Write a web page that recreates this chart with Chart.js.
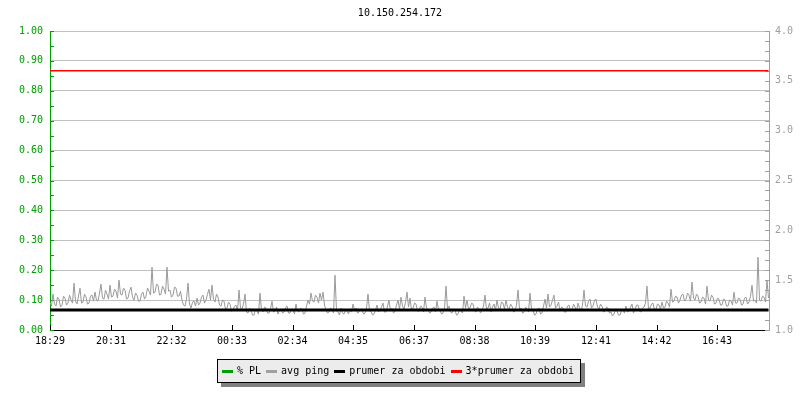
<!DOCTYPE html>
<html>
<head>
<meta charset="utf-8">
<title>10.150.254.172</title>
<script src="https://cdn.jsdelivr.net/npm/chart.js@4/dist/chart.umd.min.js"></script>
<style>
  body { margin: 0; background: #fff; }
  #wrap { position: relative; width: 800px; height: 400px; }
  #graf { display: block; }
  #legenda {
    position: absolute; left: 217px; top: 359px; height: 22px;
    padding: 0 6px 0 4px; background: #ececec; border: 1px solid #000;
    box-shadow: 4px 4px 0 #808080;
    font: 10px "DejaVu Sans Mono", monospace; line-height: 22px; color: #000;
    display: flex; align-items: center; white-space: pre;
  }
  #legenda .voce { display: flex; align-items: center; margin-right: 5px; }
  #legenda .voce:last-child { margin-right: 0; }
  #legenda .segno { width: 11px; height: 3px; margin-right: 4px; }
</style>
</head>
<body>
<div id="wrap">
  <canvas id="graf" width="800" height="400"></canvas>
  <div id="legenda"></div>
</div>
<script>
// ----- dati -----
var titolo = '10.150.254.172';
var passoMinuti = 3; // un campione ogni 3 minuti

// tacche asse x (minuti dall'inizio, 18:29)
var tickMinuti = [0, 122, 243, 364, 485, 606, 728, 849, 970, 1092, 1213, 1334];
var tickOrari = ['18:29', '20:31', '22:32', '00:33', '02:34', '04:35', '06:37', '08:38', '10:39', '12:41', '14:42', '16:43'];

// % PL (nessuna perdita nel periodo)
var perditaPL = [];

// avg ping (asse destro)
var avgPing = [
  // 18:29 - 22:32
  1.28, 1.24, 1.36, 1.26, 1.24, 1.33, 1.31, 1.23, 1.25, 1.34, 1.32, 1.25, 1.27, 1.35, 1.30, 1.27,
  1.47, 1.29, 1.26, 1.34, 1.42, 1.27, 1.28, 1.36, 1.33, 1.26, 1.27, 1.34, 1.35, 1.29, 1.38, 1.30,
  1.29, 1.37, 1.46, 1.32, 1.31, 1.40, 1.36, 1.31, 1.45, 1.33, 1.34, 1.41, 1.39, 1.32, 1.50, 1.36,
  1.35, 1.42, 1.40, 1.31, 1.32, 1.39, 1.43, 1.33, 1.30, 1.37, 1.35, 1.29, 1.29, 1.36, 1.38, 1.31,
  1.34, 1.42, 1.39, 1.35, 1.63, 1.37, 1.38, 1.46, 1.45, 1.35, 1.36, 1.44, 1.41, 1.36, 1.63, 1.39,
  1.40, 1.33, 1.35, 1.43, 1.42, 1.34, 1.34, 1.39, 1.30, 1.25, 1.24, 1.31, 1.47, 1.26, 1.22, 1.28,
  // 22:32 - 04:35
  1.29, 1.24, 1.32, 1.25, 1.27, 1.33, 1.35, 1.27, 1.30, 1.36, 1.41, 1.30, 1.45, 1.31, 1.28, 1.36,
  1.33, 1.25, 1.24, 1.30, 1.29, 1.21, 1.22, 1.28, 1.26, 1.19, 1.20, 1.24, 1.25, 1.19, 1.40, 1.22,
  1.21, 1.26, 1.36, 1.18, 1.17, 1.22, 1.20, 1.15, 1.15, 1.21, 1.19, 1.16, 1.37, 1.20, 1.18, 1.23,
  1.22, 1.17, 1.17, 1.21, 1.29, 1.18, 1.19, 1.23, 1.16, 1.20, 1.21, 1.17, 1.18, 1.22, 1.24, 1.17,
  1.17, 1.21, 1.20, 1.16, 1.26, 1.19, 1.18, 1.22, 1.21, 1.16, 1.17, 1.24, 1.30, 1.26, 1.37, 1.29,
  1.28, 1.35, 1.33, 1.27, 1.37, 1.30, 1.38, 1.25, 1.20, 1.17, 1.18, 1.22, 1.21, 1.17, 1.55, 1.19,
  // 04:35 - 10:39
  1.18, 1.15, 1.22, 1.17, 1.16, 1.20, 1.19, 1.16, 1.21, 1.18, 1.26, 1.20, 1.22, 1.17, 1.18, 1.21,
  1.20, 1.16, 1.17, 1.22, 1.36, 1.19, 1.19, 1.15, 1.16, 1.20, 1.25, 1.18, 1.20, 1.23, 1.27, 1.18,
  1.18, 1.24, 1.30, 1.19, 1.22, 1.17, 1.19, 1.25, 1.30, 1.21, 1.33, 1.24, 1.21, 1.28, 1.38, 1.23,
  1.32, 1.20, 1.22, 1.27, 1.26, 1.19, 1.19, 1.24, 1.23, 1.18, 1.33, 1.22, 1.21, 1.17, 1.18, 1.22,
  1.23, 1.18, 1.29, 1.20, 1.20, 1.16, 1.17, 1.22, 1.44, 1.21, 1.24, 1.18, 1.17, 1.21, 1.20, 1.15,
  1.16, 1.20, 1.19, 1.17, 1.34, 1.22, 1.30, 1.21, 1.22, 1.27, 1.26, 1.19, 1.18, 1.23, 1.21, 1.17,
  // 10:39 - 14:42
  1.20, 1.24, 1.35, 1.21, 1.22, 1.27, 1.18, 1.23, 1.26, 1.20, 1.30, 1.22, 1.21, 1.28, 1.27, 1.21,
  1.30, 1.23, 1.20, 1.26, 1.24, 1.18, 1.19, 1.25, 1.40, 1.21, 1.22, 1.17, 1.18, 1.23, 1.21, 1.18,
  1.37, 1.21, 1.20, 1.15, 1.16, 1.21, 1.22, 1.16, 1.17, 1.24, 1.31, 1.22, 1.36, 1.23, 1.25, 1.30,
  1.35, 1.22, 1.24, 1.28, 1.19, 1.23, 1.22, 1.18, 1.18, 1.24, 1.25, 1.19, 1.20, 1.26, 1.23, 1.19,
  1.27, 1.22, 1.19, 1.25, 1.40, 1.24, 1.23, 1.29, 1.31, 1.22, 1.24, 1.30, 1.31, 1.23, 1.21, 1.26,
  1.24, 1.18, 1.19, 1.23, 1.22, 1.17, 1.18, 1.14, 1.16, 1.21, 1.19, 1.15, 1.15, 1.19, 1.20, 1.17,
  // 14:42 - 18:29
  1.24, 1.18, 1.19, 1.23, 1.26, 1.17, 1.21, 1.25, 1.25, 1.19, 1.18, 1.22, 1.23, 1.27, 1.44, 1.21,
  1.22, 1.26, 1.27, 1.20, 1.21, 1.26, 1.25, 1.21, 1.28, 1.22, 1.23, 1.29, 1.27, 1.23, 1.41, 1.28,
  1.29, 1.34, 1.33, 1.27, 1.30, 1.35, 1.36, 1.29, 1.31, 1.37, 1.35, 1.29, 1.48, 1.32, 1.30, 1.36,
  1.34, 1.27, 1.28, 1.33, 1.32, 1.26, 1.44, 1.30, 1.29, 1.35, 1.33, 1.26, 1.27, 1.32, 1.31, 1.25,
  1.25, 1.31, 1.30, 1.24, 1.24, 1.30, 1.29, 1.25, 1.38, 1.27, 1.27, 1.32, 1.31, 1.25, 1.26, 1.32,
  1.33, 1.26, 1.28, 1.34, 1.45, 1.29, 1.30, 1.27, 1.73, 1.30, 1.29, 1.34, 1.33, 1.28, 1.50, 1.32
];

// prumer za obdobi e 3*prumer (inizio e fine periodo)
var prumer = [1.20, 1.20];
var prumer3 = [3.60, 3.60];

// ----- costruzione -----
var fineMinuti = (avgPing.length - 1) * passoMinuti;

function puntiSerie(valori, passo) {
    var punti = [];
    for (var i = 0; i < valori.length; i++) {
        punti.push({ x: i * passo, y: valori[i] });
    }
    return punti;
}

var font10 = { family: '"DejaVu Sans Mono", monospace', size: 10, weight: 'normal' };

// tacche corte dentro l'area del grafico, come rrdtool
var tacchePlugin = {
    id: 'tacche',
    beforeDatasetsDraw: function (chart) {
        var c = chart.ctx;
        var a = chart.chartArea;
        var y = chart.scales.y, y2 = chart.scales.y2, x = chart.scales.x;
        c.save();
        c.lineWidth = 1;
        c.strokeStyle = '#00a000';
        for (var k = 0; k <= 20; k++) {
            var py = Math.round(y.getPixelForValue(k * 0.05)) + 0.5;
            c.beginPath(); c.moveTo(a.left, py); c.lineTo(a.left + 4, py); c.stroke();
        }
        c.strokeStyle = '#a0a0a0';
        for (var m = 0; m <= 30; m++) {
            var py2 = Math.round(y2.getPixelForValue(1 + m * 0.1)) + 0.5;
            c.beginPath(); c.moveTo(a.right - 4, py2); c.lineTo(a.right, py2); c.stroke();
        }
        c.strokeStyle = '#000';
        tickMinuti.forEach(function (t) {
            var px = Math.round(x.getPixelForValue(t)) + 0.5;
            c.beginPath(); c.moveTo(px, a.bottom); c.lineTo(px, a.bottom - 5); c.stroke();
        });
        c.restore();
    }
};

var ctx = document.getElementById('graf');
var chart = new Chart(ctx, {
    type: 'line',
    data: {
        datasets: [{
            label: '% PL',
            data: puntiSerie(perditaPL, passoMinuti),
            borderColor: '#00a000',
            backgroundColor: '#00a000',
            borderWidth: 1,
            yAxisID: 'y',
            order: 4
        }, {
            label: 'avg ping',
            data: puntiSerie(avgPing, passoMinuti),
            borderColor: '#999999',
            backgroundColor: '#a0a0a0',
            borderWidth: 1,
            yAxisID: 'y2',
            order: 3
        }, {
            label: 'prumer za obdobi',
            data: [{ x: 0, y: prumer[0] }, { x: fineMinuti, y: prumer[1] }],
            borderColor: '#000000',
            backgroundColor: '#000000',
            borderWidth: 3,
            yAxisID: 'y2',
            order: 2
        }, {
            label: '3*prumer za obdobi',
            data: [{ x: 0, y: prumer3[0] }, { x: fineMinuti, y: prumer3[1] }],
            borderColor: '#ff0000',
            backgroundColor: '#ff0000',
            borderWidth: 1.5,
            yAxisID: 'y2',
            order: 1
        }]
    },
    options: {
        responsive: false,
        animation: false,
        layout: { padding: 0 },
        elements: { point: { radius: 0 }, line: { tension: 0 } },
        plugins: {
            legend: { display: false },
            tooltip: { enabled: false },
            title: {
                display: true,
                text: titolo,
                color: '#000',
                font: font10,
                padding: { top: 7, bottom: 12 }
            }
        },
        scales: {
            x: {
                type: 'linear',
                min: 0,
                max: 1438,
                grid: { display: false, drawTicks: false },
                border: { color: '#000', width: 1 },
                afterBuildTicks: function (axis) {
                    axis.ticks = tickMinuti.map(function (v) { return { value: v }; });
                },
                ticks: {
                    autoSkip: false,
                    maxRotation: 0,
                    color: '#000',
                    font: font10,
                    padding: 5,
                    callback: function (v) { return tickOrari[tickMinuti.indexOf(v)]; }
                },
                afterFit: function (s) { s.height = 70; }
            },
            y: {
                position: 'left',
                min: 0,
                max: 1,
                grid: {
                    drawTicks: false,
                    color: function (c) { return c.tick && c.tick.value === 0 ? 'rgba(0,0,0,0)' : '#c0c0c0'; }
                },
                border: { color: '#00a000', width: 1 },
                ticks: {
                    stepSize: 0.1,
                    color: '#00a000',
                    font: font10,
                    padding: 7,
                    callback: function (v) { return v.toFixed(2); }
                },
                afterFit: function (s) { s.width = 50; }
            },
            y2: {
                position: 'right',
                min: 1,
                max: 4,
                grid: { drawOnChartArea: false, drawTicks: false },
                border: { color: '#a0a0a0', width: 1 },
                ticks: {
                    stepSize: 0.5,
                    color: '#a0a0a0',
                    font: font10,
                    padding: 6,
                    callback: function (v) { return v.toFixed(1); }
                },
                afterFit: function (s) { s.width = 31; }
            }
        }
    },
    plugins: [tacchePlugin]
});

// legenda html con riquadro e ombra
var legenda = document.getElementById('legenda');
chart.data.datasets.forEach(function (ds) {
    var voce = document.createElement('span');
    voce.className = 'voce';
    var segno = document.createElement('span');
    segno.className = 'segno';
    segno.style.background = ds.backgroundColor;
    voce.appendChild(segno);
    voce.appendChild(document.createTextNode(ds.label));
    legenda.appendChild(voce);
});
</script>
</body>
</html>
